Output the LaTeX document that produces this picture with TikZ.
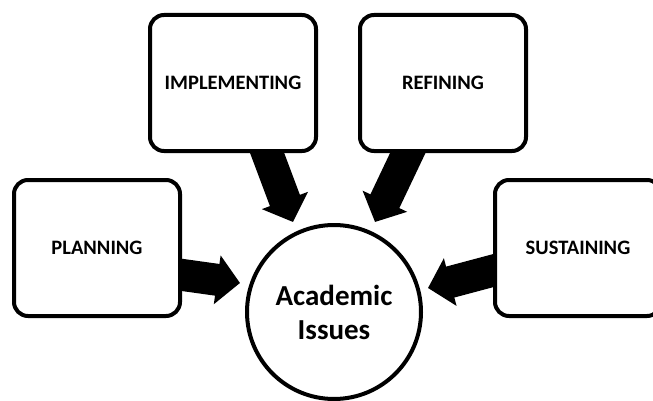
\documentclass[tikz,border=0pt]{standalone}
\usepackage{fontspec}
\setmainfont{Carlito}
\usetikzlibrary{arrows.meta,calc,backgrounds}
\begin{document}
\begin{tikzpicture}[x=1pt,y=-1pt,
  stagebox/.style={draw=black, fill=white, line width=4pt, rounded corners=14pt,
    minimum width=166pt, minimum height=136pt, inner sep=0pt,
    font=\fontsize{20.5}{22}\selectfont\bfseries},
  hub/.style={draw=black, fill=white, line width=4pt, circle, minimum size=174pt,
    inner sep=0pt, align=center, font=\fontsize{29}{34}\selectfont\bfseries},
  blockarrow/.style={line width=32pt, -{Triangle[length=23pt,width=48pt]}}]
\useasboundingbox (0,0) rectangle (653,401);
\clip (0,0) rectangle (653,401);
% arrow end points near the hub
\coordinate (tipImpl) at (293,222);
\coordinate (tipRef) at (375,222);
\coordinate (tipPlan) at (240,283);
\coordinate (tipSus) at (428,288);
% stage boxes and hub
\node[stagebox] (impl) at (233,83) {IMPLEMENTING};
\node[stagebox] (refine) at (443,83) {REFINING};
\node[stagebox] (plan) at (97,248) {PLANNING};
\node[stagebox] (sustain) at (578,248) {SUSTAINING};
\node[hub] (issues) at (334,312) {Academic\\Issues};
% block arrows, drawn behind the boxes
\begin{scope}[on background layer]
  \draw[blockarrow] ($(impl.south)+(30,-11)$) -- (tipImpl);
  \draw[blockarrow] ($(refine.south)+(-30,-11)$) -- (tipRef);
  \draw[blockarrow] ($(plan.east)+(-10,25.5)$) -- (tipPlan);
  \draw[blockarrow] ($(sustain.west)+(10,20)$) -- (tipSus);
\end{scope}
\end{tikzpicture}
\end{document}
